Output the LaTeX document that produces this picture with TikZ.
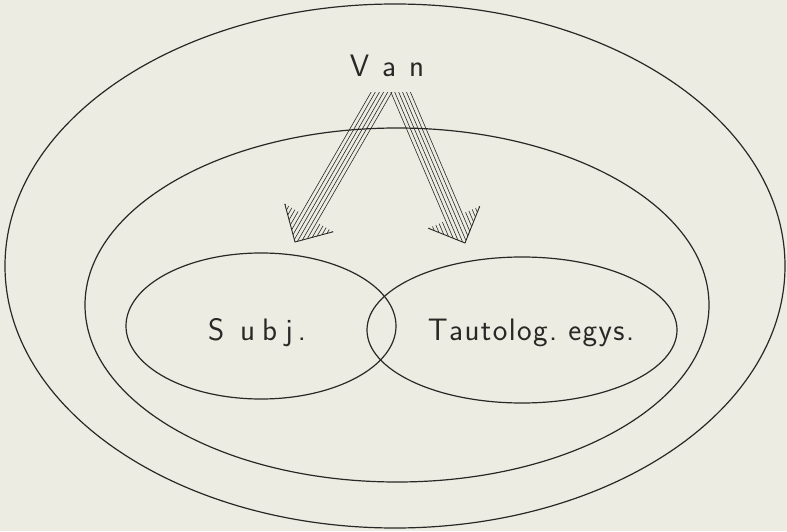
\documentclass[tikz,border=0pt]{standalone}
\usepackage{fontspec}
\usetikzlibrary{calc,shapes.geometric}
\definecolor{paper}{RGB}{237,236,226}
\definecolor{ink}{RGB}{40,40,38}
\newcommand\kTL{\kern1.4pt}
\newcommand\hatcharrow[2]{%
  \path let \p1=($(#2)-(#1)$) in \pgfextra{%
    \pgfmathsetmacro\tmpa{atan2(\y1,\x1)}%
    \pgfmathsetmacro\tmpb{veclen(\x1,\y1)}%
    \xdef\hang{\tmpa}\xdef\hlen{\tmpb}};
  \begin{scope}
    \clip (0,0) rectangle (787,438);
    \begin{scope}[shift={(#1)},rotate=\hang]
      \foreach \j in {0,1,2} {\foreach \s in {1,-1} {
        \draw[hatchline] (-15,{\s*(1.8+3.6*\j)}) -- ({\hlen-1.8-3.6*\j},{\s*(1.8+3.6*\j)});}}
      \foreach \j in {3,...,7} {\foreach \s in {1,-1} {
        \draw[hatchline] ({\hlen-28},{\s*(1.8+3.6*\j)}) -- ({\hlen-1.8-3.6*\j},{\s*(1.8+3.6*\j)});}}
      \draw[wingline] ({\hlen-28},28) -- (\hlen,0) -- ({\hlen-28},-28);
    \end{scope}
  \end{scope}}
\begin{document}
\begin{tikzpicture}[x=1pt,y=1pt,
  ell/.style={draw=ink, ellipse, line width=1.2pt, inner sep=0pt},
  lbl/.style={text=ink, anchor=base, inner sep=0pt, font=\sffamily\fontsize{31}{31}\selectfont},
  hatchline/.style={draw=ink, line width=0.6pt},
  wingline/.style={draw=ink, line width=0.9pt, line join=miter}]
\fill[paper] (0,0) rectangle (787,531);
\useasboundingbox (0,0) rectangle (787,531);
\node[ell, minimum width=780pt, minimum height=524pt] (outer) at (395,265) {};
\node[ell, minimum width=624pt, minimum height=354pt] (inner) at (397,226) {};
\node[ell, minimum width=270pt, minimum height=146pt] (subjell) at (261,205) {};
\node[ell, minimum width=310pt, minimum height=146pt] (tautell) at (522,201) {};
\node[lbl] (van) at (387,454) {V\kern13pt a\kern13pt n};
\node[lbl] (subj) at (257,191) {S\kern16pt u\kern7pt b\kern8pt j\kern5pt .};
\node[lbl] (taut) at (531,191) {T\kTL a\kTL u\kTL t\kTL o\kTL l\kTL o\kTL g\kTL .\kTL\ e\kTL g\kTL y\kTL s\kTL .};
\coordinate (la) at (381,438);
\coordinate (lt) at (295,289);
\coordinate (ra) at (401,438);
\coordinate (rt) at (465,288);
\hatcharrow{la}{lt}
\hatcharrow{ra}{rt}
\end{tikzpicture}
\end{document}
